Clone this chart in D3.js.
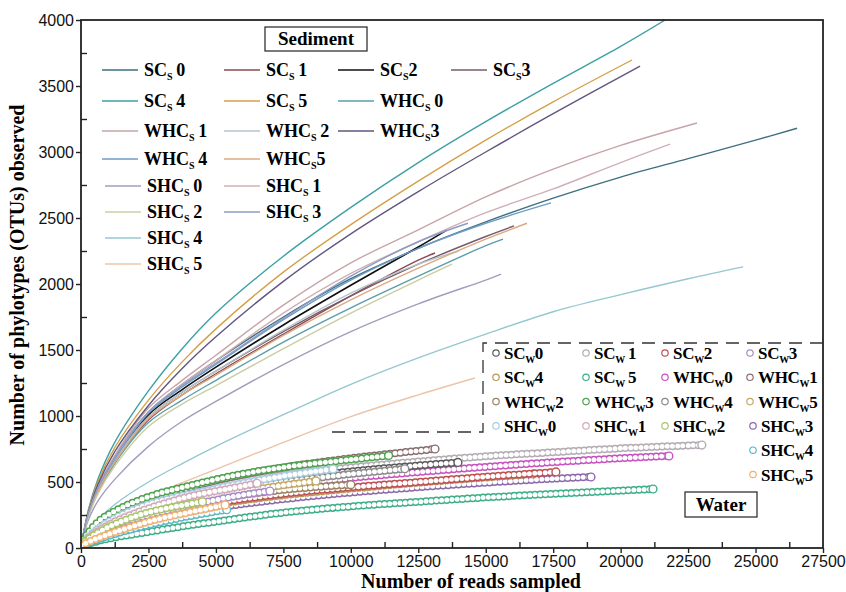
<!DOCTYPE html>
<html>
<head>
<meta charset="utf-8">
<script src="https://cdn.jsdelivr.net/npm/d3@7"></script>
<style>
  body { margin: 0; background: #fff; }
  svg { display: block; }
</style>
</head>
<body>
<svg id="chart"></svg>
<script>
// ---- sediment rarefaction curves: [reads, OTUs] ----
const SCs0 = [[0,0],[250,240],[625,450],[1250,690],[2500,1030],[3750,1240],[5000,1420],[7500,1750],[10000,2040],[12500,2270],[15000,2470],[17500,2650],[20000,2810],[22500,2950],[25000,3090],[26540,3180]];
const SCs1 = [[0,0],[250,230],[625,430],[1250,650],[2500,970],[3750,1160],[5000,1320],[7500,1620],[10000,1910],[12500,2180],[13120,2235]];
const SCs2 = [[0,0],[250,240],[625,450],[1250,680],[2500,1010],[3750,1200],[5000,1370],[7500,1690],[10000,1990],[12500,2280],[13570,2410]];
const SCs3 = [[0,0],[250,235],[625,440],[1250,670],[2500,990],[3750,1180],[5000,1340],[7500,1640],[10000,1910],[12500,2150],[15000,2360],[16050,2440]];
const SCs4 = [[0,0],[250,270],[625,520],[1250,800],[2500,1190],[3750,1510],[5000,1780],[7500,2210],[10000,2580],[12500,2920],[15000,3230],[17500,3520],[20000,3800],[21650,4000]];
const SCs5 = [[0,0],[250,260],[625,500],[1250,760],[2500,1120],[3750,1410],[5000,1660],[7500,2090],[10000,2450],[12500,2780],[15000,3090],[17500,3380],[20420,3697]];
const WHCs0 = [[0,0],[250,225],[625,420],[1250,640],[2500,950],[3750,1120],[5000,1270],[7500,1560],[10000,1820],[12500,2060],[15000,2290],[15640,2340]];
const WHCs1 = [[0,0],[250,245],[625,460],[1250,700],[2500,1060],[3750,1270],[5000,1460],[7500,1840],[10000,2160],[12500,2410],[15000,2660],[17500,2870],[20000,3050],[22830,3220]];
const WHCs2 = [[0,0],[250,235],[625,440],[1250,665],[2500,990],[3750,1180],[5000,1340],[7500,1650],[10000,1930],[12500,2150],[14000,2250]];
const WHCs3 = [[0,0],[250,250],[625,480],[1250,730],[2500,1080],[3750,1360],[5000,1600],[7500,2020],[10000,2380],[12500,2700],[15000,3000],[17500,3290],[20720,3650]];
const WHCs4 = [[0,0],[250,240],[625,445],[1250,675],[2500,1020],[3750,1220],[5000,1390],[7500,1730],[10000,2030],[12500,2270],[15000,2460],[17420,2614]];
const WHCs5 = [[0,0],[250,230],[625,430],[1250,650],[2500,980],[3750,1160],[5000,1310],[7500,1610],[10000,1880],[12500,2120],[15000,2340],[16530,2460]];
const SHCs0 = [[0,0],[250,200],[625,355],[1250,520],[2500,770],[3750,960],[5000,1110],[7500,1390],[10000,1640],[12500,1850],[15000,2030],[15570,2075]];
const SHCs1 = [[0,0],[250,240],[625,450],[1250,690],[2500,1030],[3750,1240],[5000,1420],[7500,1780],[10000,2080],[12500,2320],[15000,2540],[17500,2720],[20000,2920],[21830,3060]];
const SHCs2 = [[0,0],[250,220],[625,410],[1250,620],[2500,920],[3750,1090],[5000,1230],[7500,1510],[10000,1780],[12500,2030],[13750,2150]];
const SHCs3 = [[0,0],[250,242],[625,452],[1250,685],[2500,1030],[3750,1230],[5000,1400],[7500,1740],[10000,2060],[12500,2320],[14340,2460]];
const SHCs4 = [[0,0],[250,110],[625,210],[1250,330],[2500,500],[3750,640],[5000,770],[7500,1010],[10000,1240],[12500,1440],[15000,1620],[17500,1790],[20000,1920],[22500,2040],[24540,2130]];
const SHCs5 = [[0,0],[250,80],[625,160],[1250,250],[2500,390],[3750,495],[5000,595],[7500,800],[10000,995],[12500,1160],[14600,1288]];

// ---- water rarefaction curves ----
const SCw0 = [[0,30],[500,120],[1250,220],[2500,320],[5000,440],[7500,520],[10000,580],[12500,625],[13970,648]];
const SCw1 = [[0,30],[500,130],[1250,240],[2500,350],[5000,470],[7500,555],[10000,610],[12500,655],[15000,695],[17500,725],[20000,755],[23010,780]];
const SCw2 = [[0,20],[500,85],[1250,160],[2500,240],[5000,340],[7500,410],[10000,460],[12500,500],[15000,540],[17600,576]];
const SCw3 = [[0,25],[500,95],[1250,170],[2500,250],[4000,320],[5500,385],[7000,432]];
const SCw4 = [[0,20],[500,80],[1250,150],[2500,230],[5000,330],[7500,400],[10000,450],[12500,495],[15000,535],[16760,561]];
const SCw5 = [[0,15],[500,45],[1000,70],[2000,105],[3500,155],[5000,200],[7500,268],[10000,315],[12500,350],[15000,383],[17500,410],[20000,435],[21200,447]];
const WHCw0 = [[0,25],[500,100],[1250,190],[2500,290],[5000,400],[7500,470],[10000,530],[12500,575],[15000,615],[17500,650],[20000,680],[21790,697]];
const WHCw1 = [[0,30],[500,125],[1250,235],[2500,360],[5000,510],[7500,610],[10000,680],[11500,715],[13120,750]];
const WHCw2 = [[0,20],[500,90],[1250,170],[2500,260],[5000,370],[7500,440],[10000,480]];
const WHCw3 = [[0,30],[250,110],[700,210],[1250,280],[2000,350],[3000,420],[4000,470],[5000,520],[6500,580],[8000,625],[10000,670],[11400,700]];
const WHCw4 = [[0,25],[500,110],[1250,205],[2500,310],[5000,425],[7500,500],[10000,560],[12000,600]];
const WHCw5 = [[0,25],[500,100],[1250,180],[2500,270],[5000,390],[7000,460],[8710,508]];
const SHCw0 = [[0,30],[500,125],[1250,225],[2500,330],[5000,450],[7500,545],[9340,598]];
const SHCw1 = [[0,25],[500,110],[1250,200],[2500,300],[4000,390],[5500,450],[6520,490]];
const SHCw2 = [[0,25],[500,100],[1250,180],[2500,270],[4500,350]];
const SHCw3 = [[0,20],[500,75],[1250,140],[2500,215],[5000,305],[7500,370],[10000,420],[12500,460],[15000,495],[17500,525],[18900,538]];
const SHCw4 = [[0,15],[500,55],[1250,105],[2500,175],[4000,240],[5400,290]];
const SHCw5 = [[0,20],[500,65],[1250,120],[2500,200],[4000,270],[5340,326]];

const sedNames = ["SCs 0","SCs 1","SCs2","SCs3","SCs 4","SCs 5","WHCs 0","WHCs 1","WHCs 2","WHCs3","WHCs 4","WHCs5","SHCs 0","SHCs 1","SHCs 2","SHCs 3","SHCs 4","SHCs 5"];
const sedSeries = [SCs0,SCs1,SCs2,SCs3,SCs4,SCs5,WHCs0,WHCs1,WHCs2,WHCs3,WHCs4,WHCs5,SHCs0,SHCs1,SHCs2,SHCs3,SHCs4,SHCs5];
const sedColors = ["#3e6f80","#8b4a4e","#111111","#7a5a6a","#3ca0a4","#d4a048","#5a9ea8","#c8a4a8","#b4c4cc","#625580","#6f9cc4","#dcaa80","#a49cbc","#d0b0b4","#cccca4","#8c9cc4","#94c8d0","#ecc4a8"];
const sedRows = [4,3,3,2,2,2,1,1];

const watNames = ["SCw0","SCw 1","SCw2","SCw3","SCw4","SCw 5","WHCw0","WHCw1","WHCw2","WHCw3","WHCw4","WHCw5","SHCw0","SHCw1","SHCw2","SHCw3","SHCw4","SHCw5"];
const watSeries = [SCw0,SCw1,SCw2,SCw3,SCw4,SCw5,WHCw0,WHCw1,WHCw2,WHCw3,WHCw4,WHCw5,SHCw0,SHCw1,SHCw2,SHCw3,SHCw4,SHCw5];
const watColors = ["#5a5a5a","#b4acb4","#c05050","#a88cc8","#b89858","#3cae88","#c850c0","#8a6e6e","#988060","#4ea24e","#8a8a8a","#c4a868","#a8cce0","#d4a8bc","#a8c46c","#8a68aa","#5ab8c8","#f0b070"];
const watOrder = [5,15,4,2,6,1,8,0,10,7,9,11,12,3,13,14,16,17];

const xTicks = d3.range(0, 27501, 2500);
const yTicks = d3.range(0, 4001, 500);

const W = 846, H = 592;
const m = {left: 81, right: 23, top: 20, bottom: 44};

const svg = d3.select("#chart").attr("width", W).attr("height", H);

const x = d3.scaleLinear().domain([0, 27500]).range([m.left, W - m.right]);
const y = d3.scaleLinear().domain([0, 4000]).range([H - m.bottom, m.top]);

svg.append("clipPath").attr("id", "clip")
  .append("rect")
  .attr("x", m.left).attr("y", m.top)
  .attr("width", x.range()[1] - m.left).attr("height", y.range()[0] - m.top);

const line = d3.line()
  .x(d => x(d[0]))
  .y(d => y(d[1]))
  .curve(d3.curveCatmullRom.alpha(0.5));

const plot = svg.append("g").attr("clip-path", "url(#clip)");

// sediment lines
sedSeries.forEach((s, i) => {
  plot.append("path")
    .attr("d", line(s))
    .attr("fill", "none")
    .attr("stroke", sedColors[i])
    .attr("stroke-width", i == 2 ? 1.7 : 1.4);
});

// water series: chain of open circles
watOrder.forEach(i => {
  const s = watSeries[i];
  const g = plot.append("g");
  g.append("path")
    .attr("d", line(s))
    .attr("fill", "none")
    .attr("stroke", watColors[i])
    .attr("stroke-width", 8)
    .attr("stroke-linecap", "round")
    .attr("stroke-dasharray", "0 5.2");
  g.append("path")
    .attr("d", line(s))
    .attr("fill", "none")
    .attr("stroke", "#fff")
    .attr("stroke-width", 5.0)
    .attr("stroke-linecap", "round")
    .attr("stroke-dasharray", "0 5.2");
  const last = s[s.length - 1];
  g.append("circle")
    .attr("cx", x(last[0])).attr("cy", y(last[1]))
    .attr("r", 3.9)
    .attr("fill", "#fff")
    .attr("stroke", watColors[i])
    .attr("stroke-width", 1.4);
});

// axes
const tickFont = "'Liberation Sans', Arial, sans-serif";
svg.append("g")
  .attr("transform", "translate(0," + y(0) + ")")
  .call(d3.axisBottom(x).tickValues(xTicks).tickFormat(d3.format("d")).tickSize(5).tickPadding(3));
svg.append("g")
  .attr("transform", "translate(" + x(0) + ",0)")
  .call(d3.axisLeft(y).tickValues(yTicks).tickFormat(d3.format("d")).tickSize(5).tickPadding(2));

// minor ticks inward
svg.append("g")
  .attr("transform", "translate(0," + y(0) + ")")
  .call(d3.axisBottom(x).tickValues(xTicks.map(d => d + 1250).filter(d => d < 27500)).tickSize(-6).tickFormat(""));
svg.append("g")
  .attr("transform", "translate(" + x(0) + ",0)")
  .call(d3.axisLeft(y).tickValues(yTicks.map(d => d + 250).filter(d => d < 4000)).tickSize(-6).tickFormat(""));

svg.selectAll(".domain").remove();
svg.selectAll(".tick line").attr("stroke", "#222").attr("stroke-width", 1.4);
svg.selectAll(".tick text")
  .attr("font-family", tickFont)
  .attr("font-size", 16)
  .attr("fill", "#111");

// frame
svg.append("rect")
  .attr("x", m.left).attr("y", m.top)
  .attr("width", x.range()[1] - m.left).attr("height", y.range()[0] - m.top)
  .attr("fill", "none")
  .attr("stroke", "#222")
  .attr("stroke-width", 1.8);

const serif = "'Liberation Serif', 'Times New Roman', serif";

// axis titles
svg.append("text")
  .attr("x", 471).attr("y", 588)
  .attr("text-anchor", "middle")
  .attr("font-family", serif).attr("font-weight", "bold").attr("font-size", 20)
  .text("Number of reads sampled");
svg.append("text")
  .attr("transform", "translate(24,275) rotate(-90)")
  .attr("text-anchor", "middle")
  .attr("font-family", serif).attr("font-weight", "bold").attr("font-size", 20)
  .text("Number of phylotypes (OTUs) observed");

function label(sel, name, sub) {
  const p = name.match(/^([A-Z]+)([sw])(.*)$/);
  sel.append("tspan").text(p[1]);
  sel.append("tspan").attr("font-size", sub).attr("dy", 4).text(p[2] == "s" ? "S" : "W");
  sel.append("tspan").attr("dy", -4).text(p[3].replace(" ", "\u2009"));
}

// sediment legend
const sedLeg = svg.append("g");
sedLeg.append("rect")
  .attr("x", 265).attr("y", 27).attr("width", 102).attr("height", 24)
  .attr("fill", "#fff").attr("stroke", "#333").attr("stroke-width", 1.3);
sedLeg.append("text")
  .attr("x", 316).attr("y", 45)
  .attr("text-anchor", "middle")
  .attr("font-family", serif).attr("font-weight", "bold").attr("font-size", 19)
  .text("Sediment");

const rowY = [70, 101, 131, 159, 186, 212, 238, 264];
const colX = [102, 224, 338, 451];
let k = 0;
sedRows.forEach((n, r) => {
  for (let c = 0; c < n; c++, k++) {
    const lx = colX[c] + (r >= 4 && c == 0 ? 3 : 0);
    sedLeg.append("line")
      .attr("x1", lx).attr("x2", lx + 36)
      .attr("y1", rowY[r]).attr("y2", rowY[r])
      .attr("stroke", sedColors[k]).attr("stroke-width", 1.5);
    const t = sedLeg.append("text")
      .attr("x", lx + 42).attr("y", rowY[r] + 6)
      .attr("font-family", serif).attr("font-weight", "bold").attr("font-size", 18);
    label(t, sedNames[k], 10);
  }
});

// water legend
const watLeg = svg.append("g");
watLeg.append("path")
  .attr("d", "M" + x.range()[1] + ",343H483V432H325")
  .attr("fill", "none")
  .attr("stroke", "#333").attr("stroke-width", 1.3)
  .attr("stroke-dasharray", "13 8");

const wColX = [496, 586, 665, 750];
watNames.forEach((nm, i) => {
  const r = i < 16 ? Math.floor(i / 4) : i - 12;
  const c = i < 16 ? i % 4 : 3;
  const cy = 353 + r * 24.3;
  const cx = wColX[c] + (i >= 15 ? 3 : 0);
  watLeg.append("circle")
    .attr("cx", cx).attr("cy", cy).attr("r", 3.2)
    .attr("fill", "#fff").attr("stroke", watColors[i]).attr("stroke-width", 1.2);
  const t = watLeg.append("text")
    .attr("x", cx + 8).attr("y", cy + 6)
    .attr("font-family", serif).attr("font-weight", "bold").attr("font-size", 17)
    .attr("letter-spacing", -0.3);
  label(t, nm, 10);
});

watLeg.append("rect")
  .attr("x", 685).attr("y", 492).attr("width", 72).attr("height", 25)
  .attr("fill", "#fff").attr("stroke", "#333").attr("stroke-width", 1.3);
watLeg.append("text")
  .attr("x", 721).attr("y", 511)
  .attr("text-anchor", "middle")
  .attr("font-family", serif).attr("font-weight", "bold").attr("font-size", 19)
  .text("Water");
</script>
</body>
</html>
